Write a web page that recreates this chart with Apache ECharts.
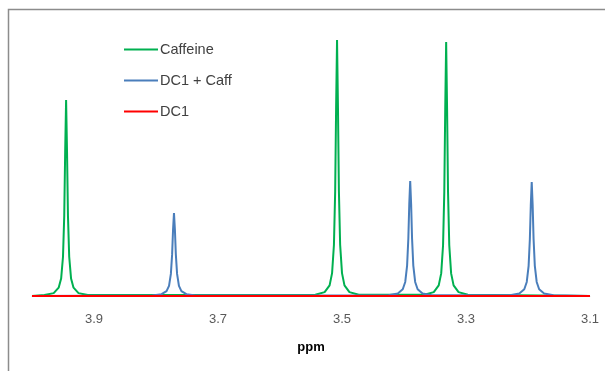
<!DOCTYPE html>
<html>
<head>
<meta charset="utf-8">
<script src="https://cdn.jsdelivr.net/npm/echarts@6/dist/echarts.min.js"></script>
<style>
html,body{margin:0;padding:0;background:#fff;}
#chart{width:605px;height:371px;}
</style>
</head>
<body>
<div id="chart"></div>
<script>
// ---- data (ppm vs. intensity) ----
var seriesNames = ['Caffeine', 'DC1 + Caff', 'DC1'];
var xTickLabels = ['3.9', '3.7', '3.5', '3.3', '3.1'];

var caffeinePpm = [4.000,
  3.980, 3.965, 3.957, 3.953, 3.950, 3.948, 3.9465, 3.945, 3.9435, 3.942, 3.940, 3.937, 3.933, 3.925, 3.910,
  3.543, 3.528, 3.520, 3.516, 3.513, 3.511, 3.5095, 3.508, 3.5065, 3.505, 3.503, 3.500, 3.496, 3.488, 3.473,
  3.367, 3.352, 3.344, 3.340, 3.337, 3.335, 3.3335, 3.332, 3.3305, 3.329, 3.327, 3.324, 3.320, 3.312, 3.297,
  3.100];
var caffeineIntensity = [0,
  0.004, 0.011, 0.032, 0.067, 0.151, 0.309, 0.554, 0.754, 0.554, 0.309, 0.151, 0.067, 0.032, 0.011, 0.004,
  0.005, 0.015, 0.041, 0.088, 0.197, 0.404, 0.724, 0.985, 0.724, 0.404, 0.197, 0.088, 0.041, 0.015, 0.005,
  0.005, 0.015, 0.041, 0.087, 0.195, 0.401, 0.718, 0.977, 0.718, 0.401, 0.195, 0.087, 0.041, 0.015, 0.005,
  0];

var mixPpm = [4.000,
  3.806, 3.791, 3.783, 3.779, 3.776, 3.774, 3.7725, 3.771, 3.7695, 3.768, 3.766, 3.763, 3.759, 3.751, 3.736,
  3.425, 3.410, 3.402, 3.398, 3.395, 3.393, 3.3915, 3.390, 3.3885, 3.387, 3.385, 3.382, 3.378, 3.370, 3.355,
  3.229, 3.214, 3.206, 3.202, 3.199, 3.197, 3.1955, 3.194, 3.1925, 3.191, 3.189, 3.186, 3.182, 3.174, 3.159,
  3.100];
var mixIntensity = [0,
  0.002, 0.007, 0.019, 0.039, 0.085, 0.160, 0.255, 0.319, 0.255, 0.160, 0.085, 0.039, 0.019, 0.007, 0.002,
  0.003, 0.010, 0.026, 0.054, 0.117, 0.221, 0.354, 0.442, 0.354, 0.221, 0.117, 0.054, 0.026, 0.010, 0.003,
  0.003, 0.010, 0.026, 0.054, 0.116, 0.219, 0.350, 0.438, 0.350, 0.219, 0.116, 0.054, 0.026, 0.010, 0.003,
  0];

var dc1Ppm = [4.000, 3.100];
var dc1Intensity = [0, 0];

function pairs(xs, ys) {
  var out = [];
  for (var i = 0; i < xs.length; i++) out.push([xs[i], ys[i]]);
  return out;
}

var chart = echarts.init(document.getElementById('chart'), null, {renderer: 'canvas'});
var font = '"Liberation Sans", Arial, sans-serif';
var colors = ['#00B050', '#4A7EBB', '#FF0000'];

chart.setOption({
  animation: false,
  backgroundColor: '#ffffff',
  textStyle: {fontFamily: font},
  graphic: [{
    type: 'rect',
    shape: {x: 8.5, y: 9.5, width: 800, height: 600},
    style: {fill: 'none', stroke: '#8c8c8c', lineWidth: 1.5},
    silent: true
  }],
  grid: {left: 32, right: 15, top: 36, bottom: 75},
  legend: {
    orient: 'vertical',
    left: 119,
    top: 37,
    icon: 'rect',
    itemWidth: 34,
    itemHeight: 2,
    itemGap: 16,
    textStyle: {fontFamily: font, fontSize: 14.5, color: '#404040', padding: [0, 0, 0, -3]},
    data: seriesNames
  },
  xAxis: {
    type: 'value',
    inverse: true,
    min: 3.1,
    max: 4.0,
    interval: 0.2,
    name: 'ppm',
    nameLocation: 'middle',
    nameGap: 45,
    nameTextStyle: {fontFamily: font, fontSize: 13, fontWeight: 'bold', color: '#000000'},
    axisLine: {show: true, lineStyle: {color: '#d9d9d9'}},
    axisTick: {show: false},
    splitLine: {show: false},
    axisLabel: {
      fontFamily: font, fontSize: 13, color: '#595959', margin: 17,
      showMaxLabel: false,
      formatter: function (v) {
        var s = (Math.round(v * 10) / 10).toFixed(1);
        return xTickLabels.indexOf(s) >= 0 ? s : '';
      }
    }
  },
  yAxis: {
    type: 'value',
    min: 0,
    max: 1,
    show: false,
    splitLine: {show: false}
  },
  series: [
    {name: seriesNames[0], type: 'line', data: pairs(caffeinePpm, caffeineIntensity), symbol: 'none',
     lineStyle: {color: colors[0], width: 2}, itemStyle: {color: colors[0]}},
    {name: seriesNames[1], type: 'line', data: pairs(mixPpm, mixIntensity), symbol: 'none',
     lineStyle: {color: colors[1], width: 2}, itemStyle: {color: colors[1]}},
    {name: seriesNames[2], type: 'line', data: pairs(dc1Ppm, dc1Intensity), symbol: 'none',
     lineStyle: {color: colors[2], width: 2}, itemStyle: {color: colors[2]}}
  ]
});
</script>
</body>
</html>
